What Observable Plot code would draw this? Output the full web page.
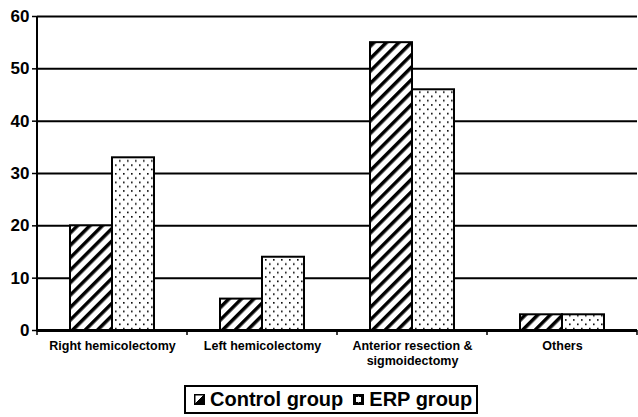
<!DOCTYPE html>
<html><head><meta charset="utf-8">
<script src="https://cdn.jsdelivr.net/npm/d3@7"></script>
<script src="https://cdn.jsdelivr.net/npm/@observablehq/plot@0.6"></script>
<style>
body{margin:0;background:#fff;font-family:"Liberation Sans",Arial,sans-serif;}
#chart{width:638px;}
#chart svg{display:block;}
.legend{margin:10px 0 0 184px;width:290px;height:25px;border:2px solid #000;display:flex;align-items:center;font-weight:bold;font-size:20px;color:#000;white-space:nowrap;}
.legend .item{display:flex;align-items:center;}
.legend svg{margin-right:5px;}
</style></head><body><div id="chart"></div>
<script>
const categories = ["Right hemicolectomy","Left hemicolectomy","Anterior resection & sigmoidectomy","Others"];
const xTickLabels = ["Right hemicolectomy","Left hemicolectomy","Anterior resection &\nsigmoidectomy","Others"];
const groups = ["Control group","ERP group"];
const controlValues = [20,6,55,3];
const erpValues = [33,14,46,3];
const yTicks = [0,10,20,30,40,50,60];

const data = categories.flatMap((c,i)=>[
  {category:c, group:groups[0], value:controlValues[i]},
  {category:c, group:groups[1], value:erpValues[i]}
]);

const plot = Plot.plot({
  width:638, height:375, marginTop:16, marginBottom:45, marginLeft:35, marginRight:0,
  style:{fontFamily:"'Liberation Sans', Arial, sans-serif", background:"white", color:"black"},
  fx:{domain:categories, padding:0, label:null},
  x:{domain:groups, paddingInner:0, paddingOuter:0.78, axis:null},
  y:{domain:[0,60], axis:null},
  color:{domain:groups, range:["url(#hatch)","url(#dots)"]},
  marks:[
    Plot.ruleY(yTicks.filter(d=>d>0), {stroke:"black", strokeWidth:2}),
    Plot.barY(data, {fx:"category", x:"group", y:"value", fill:"group", stroke:"black", strokeWidth:2}),
    Plot.ruleY([0], {stroke:"black", strokeWidth:3}),
    Plot.axisY({ticks:yTicks, tickSize:5, tickPadding:3, fontSize:17, fontWeight:"bold", label:null, stroke:"black", strokeWidth:1.5}),
    Plot.axisFx({anchor:"bottom", tickSize:0, tickPadding:8, fontSize:12.5, fontWeight:"bold", label:null, lineHeight:1.25,
      tickFormat:d=>xTickLabels[categories.indexOf(d)]})
  ]
});

const svg = d3.select(plot);
const defs = svg.insert("defs", ":first-child");
const hatch = defs.append("pattern").attr("id","hatch").attr("patternUnits","userSpaceOnUse")
  .attr("width",8.8).attr("height",8.8).attr("patternTransform","rotate(45)");
hatch.append("rect").attr("width",8.8).attr("height",8.8).attr("fill","white");
hatch.append("rect").attr("width",3.5).attr("height",8.8).attr("fill","black");
const dots = defs.append("pattern").attr("id","dots").attr("patternUnits","userSpaceOnUse")
  .attr("width",8).attr("height",8.6);
dots.append("rect").attr("width",8).attr("height",8.6).attr("fill","white");
dots.append("rect").attr("x",1).attr("y",1).attr("width",1.6).attr("height",1.6).attr("fill","black");
dots.append("rect").attr("x",5).attr("y",5.3).attr("width",1.6).attr("height",1.6).attr("fill","black");

// axis lines and category boundary ticks from the library scales
const fx = plot.scale("fx"), y = plot.scale("y");
const y0 = y.apply(0), y60 = y.apply(60);
const x0 = fx.apply(categories[0]);
svg.append("line").attr("x1",x0).attr("x2",x0).attr("y1",y60).attr("y2",y0+1.5).attr("stroke","black").attr("stroke-width",2);
const bounds = categories.map(c=>fx.apply(c)).concat([fx.apply(categories[categories.length-1])+fx.bandwidth]);
bounds.forEach(b=>{
  svg.append("line").attr("x1",b).attr("x2",b).attr("y1",y0).attr("y2",y0+5).attr("stroke","black").attr("stroke-width",1.5);
});

const chart = document.getElementById("chart");
chart.appendChild(plot);

// legend
const legend = document.createElement("div");
legend.className = "legend";
legend.innerHTML = `
<div class="item" style="margin-left:8px"><svg width="11" height="11"><rect x="0.75" y="0.75" width="9.5" height="9.5" fill="white" stroke="black" stroke-width="1.5"/><path d="M10.25 0.75 L10.25 10.25 L0.75 10.25 Z" fill="black" stroke="black" stroke-width="1"/></svg>${groups[0]}</div>
<div class="item" style="margin-left:10px"><svg width="11" height="11"><rect x="0.75" y="0.75" width="9.5" height="9.5" fill="black" stroke="black" stroke-width="1.5"/><rect x="3" y="3" width="5" height="5" fill="white"/><rect x="5" y="2.5" width="1" height="6" fill="white"/></svg>${groups[1]}</div>`;
chart.appendChild(legend);
</script>
</body></html>
